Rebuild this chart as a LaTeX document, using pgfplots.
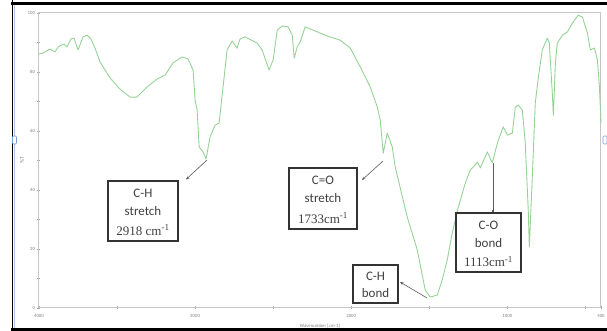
\documentclass[border=0pt]{standalone}
\usepackage{pgfplots}
\pgfplotsset{compat=1.18}
\usepackage{fontspec}
\setmainfont{Liberation Serif}
\newfontfamily\calfont{Carlito}
\usetikzlibrary{arrows.meta}
\definecolor{spec}{RGB}{150,210,150}
\definecolor{handle}{RGB}{120,160,210}
\begin{document}
\begin{tikzpicture}[x=1pt,y=1pt]
\path[use as bounding box] (0,0) rectangle (607,331);
% page frame
\draw[black, line width=2.5pt] (11,327.5) -- (607,327.5);
\draw[black, line width=2.5pt] (11,1.5) -- (607,1.5);
\draw[black, line width=1.5pt] (12.5,0) -- (12.5,331);
\draw[handle!60, line width=1pt] (14.5,3) -- (14.5,326);
\begin{axis}[at={(39pt,23pt)}, anchor=south west, scale only axis,
  width=562pt, height=295pt,
  xmin=400, xmax=4000, x dir=reverse, ymin=0, ymax=100,
  xtick={4000,3000,2000,1000,400}, minor xtick={3500,2500,1500,500},
  ytick={0,20,40,60,80,100}, minor ytick={10,30,50,70,90},
  xtick pos=bottom, ytick pos=left, tick align=center,
  major tick length=3pt, minor tick length=3pt,
  axis line style={draw=gray!45, line width=1pt},
  tick style={draw=gray!70, line width=0.4pt},
  /pgf/number format/1000 sep={}, /pgf/number format/assume math mode=true,
  tick label style={font=\fontsize{4.8}{5}\selectfont\calfont, text=gray},
  xticklabel style={yshift=-1pt},
  yticklabel style={xshift=1pt},
  xlabel={Wavenumber [cm-1]},
  xlabel style={font=\fontsize{4.8}{5}\selectfont\calfont, text=gray, at={(axis description cs:0.5,0)}, anchor=center, yshift=-18pt},
  clip=false]
\addplot[spec, line width=0.9pt, line join=round] coordinates {
(4000,86.1) (3974,86.4) (3930,87.8) (3897,86.8) (3878,88.5) (3840,89.5)
(3821,88.5) (3795,91.2) (3776,91.5) (3750,87.5) (3718,91.9) (3692,92.5)
(3667,91.2) (3641,88.1) (3609,83.4) (3545,78.0) (3481,74.2) (3417,71.5)
(3372,71.5) (3308,74.9) (3244,77.6) (3192,79.0) (3141,83.1) (3083,85.1)
(3045,84.4) (3013,80.7) (3000,70.5) (2987,67.1) (2974,54.6) (2949,52.9)
(2930,50.5) (2904,58.0) (2872,62.0) (2846,62.7) (2821,74.9) (2795,87.5)
(2763,90.5) (2731,88.1) (2712,91.2) (2680,91.9) (2603,89.8) (2571,87.5)
(2526,80.7) (2500,84.1) (2474,94.2) (2442,95.6) (2404,95.3) (2378,92.5)
(2365,84.7) (2346,88.5) (2327,90.2) (2295,95.3) (2244,94.2) (2154,92.2)
(2071,90.8) (2006,88.1) (1942,81.7) (1878,74.9) (1833,68.1) (1814,63.7)
(1795,52.5) (1769,59.3) (1737,54.6) (1718,47.8) (1641,30.8) (1577,19.7)
(1526,6.1) (1494,3.7) (1449,4.4) (1417,9.5) (1385,16.3) (1353,25.4)
(1314,34.2) (1269,42.4) (1237,46.8) (1218,47.8) (1192,49.5) (1173,47.5)
(1128,52.9) (1096,49.2) (1064,55.9) (1026,61.4) (1000,58.6) (968,59.3)
(949,68.1) (930,68.8) (904,67.1) (885,55.9) (866,33.2) (859,20.7)
(840,44.4) (821,69.5) (801,78.3) (776,87.5) (744,91.5) (731,89.8)
(712,72.9) (705,65.4) (692,83.1) (680,89.8) (647,92.5) (615,93.6)
(583,96.6) (545,99.3) (519,98.6) (487,93.2) (468,87.5) (442,88.1)
(423,84.1) (410,74.9) (400,62.7)
};
\end{axis}
% y label
\node[text=gray, font=\fontsize{5.5}{6}\selectfont\calfont, rotate=90] at (22,171) {\%T};
% selection handles
\draw[handle, fill=white, line width=0.6pt, rounded corners=1pt] (12.5,187) rectangle (16.5,195);
\draw[handle, fill=white, line width=0.6pt, rounded corners=1pt] (603,187) rectangle (607,195);
% annotation boxes
\tikzset{abox/.style={draw=black!80, line width=1.8pt, fill=white},
  atxt/.style={text=black!75, inner sep=0pt, anchor=center},
  aarr/.style={draw=black!65, line width=0.6pt, -{Stealth[length=3.5pt,width=2.8pt]}}}
\newcommand{\fs}{\fontsize{13}{15}\selectfont}
% C-H stretch
\draw[abox] (108,90) rectangle (178,150);
\node[atxt] at (143,138) {\fs\calfont C-H};
\node[atxt] at (143,119.5) {\fs\calfont stretch};
\node[atxt] at (143,101) {\fs 2918 cm\textsuperscript{-1}};
\draw[aarr] (207,171) -- (186,151.5);
% C=O stretch
\draw[abox] (289,102) rectangle (357,163);
\node[atxt] at (323,151) {\fs\calfont C=O};
\node[atxt] at (323,132.5) {\fs\calfont stretch};
\node[atxt] at (323,113) {\fs 1733cm\textsuperscript{-1}};
\draw[aarr] (383,170) -- (362,151);
% C-H bond
\draw[abox] (353,28) rectangle (398,66);
\node[atxt] at (375.5,55) {\fs\calfont C-H};
\node[atxt] at (375.5,37.5) {\fs\calfont bond};
\draw[aarr] (427,33) -- (400,49);
% C-O bond
\draw[abox] (456,59) rectangle (521,118);
\node[atxt] at (488.5,106) {\fs\calfont C-O};
\node[atxt] at (488.5,88) {\fs\calfont bond};
\node[atxt] at (488.5,69.5) {\fs 1113cm\textsuperscript{-1}};
\draw[draw=black!65, line width=0.8pt, -{Square[length=2pt,width=2pt]}] (493,168) -- (493,119);
\end{tikzpicture}
\end{document}
